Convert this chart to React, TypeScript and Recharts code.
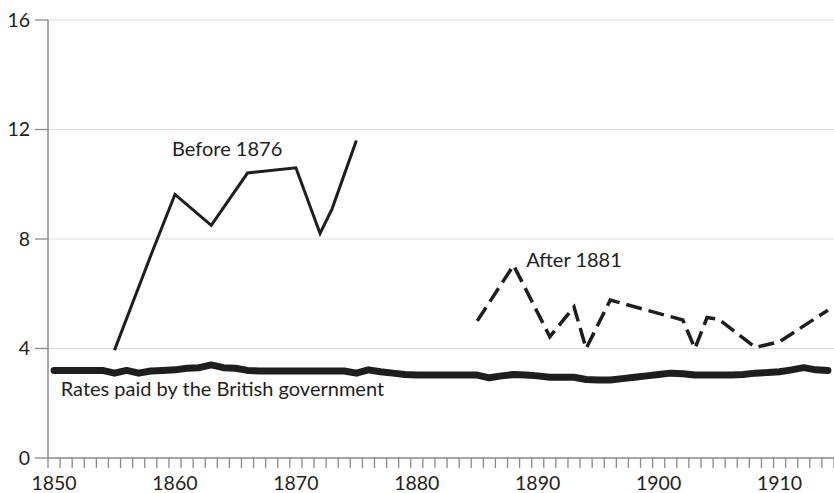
import React from "react";
import { LineChart, Line, XAxis, YAxis, CartesianGrid, ReferenceDot } from "recharts";

const britishYears = [1850,1851,1852,1853,1854,1855,1856,1857,1858,1859,1860,1861,1862,1863,1864,1865,1866,1867,1868,1869,1870,1871,1872,1873,1874,1875,1876,1877,1878,1879,1880,1881,1882,1883,1884,1885,1886,1887,1888,1889,1890,1891,1892,1893,1894,1895,1896,1897,1898,1899,1900,1901,1902,1903,1904,1905,1906,1907,1908,1909,1910,1911,1912,1913,1914];
const britishRates = [3.2,3.2,3.2,3.2,3.2,3.1,3.2,3.1,3.18,3.2,3.22,3.28,3.3,3.4,3.3,3.28,3.2,3.18,3.18,3.18,3.18,3.18,3.18,3.18,3.18,3.1,3.22,3.15,3.1,3.05,3.03,3.03,3.03,3.03,3.03,3.03,2.93,3.0,3.05,3.03,3.0,2.95,2.95,2.95,2.87,2.85,2.85,2.9,2.95,3.0,3.05,3.1,3.08,3.03,3.03,3.03,3.03,3.05,3.1,3.12,3.15,3.22,3.3,3.22,3.2];

const beforeYears = [1855,1858,1860,1863,1866,1870,1872,1873,1875];
const beforeRates = [3.94,7.4,9.63,8.5,10.41,10.6,8.2,9.11,11.6];

const afterYears = [1885,1888,1891,1893,1894,1896,1902,1903,1904,1905,1908,1910,1914];
const afterRates = [5.01,7.04,4.43,5.52,4.0,5.77,5.04,4.0,5.13,5.06,4.04,4.25,5.4];

const decadeLabels = [1850,1860,1870,1880,1890,1900,1910];
const yTicks = [0,4,8,12,16];
const xStart = 1849.5;
const xEnd = 1914.5;
const minorTicks: number[] = [];
for (let t = xStart; t <= xEnd + 0.001; t += 1) minorTicks.push(t);

const britishData = britishYears.map((year, i) => ({ year, v: britishRates[i] }));
const beforeData = beforeYears.map((year, i) => ({ year, v: beforeRates[i] }));
const afterData = afterYears.map((year, i) => ({ year, v: afterRates[i] }));

const FONT = "Lato, 'Liberation Sans', sans-serif";
const AXIS = "#8a8a8a";
const INK = "#1e1e1e";

const XTick = (props: any) => {
  const { x, y, payload } = props;
  const mid = payload.value + 0.5;
  const isLabel = decadeLabels.includes(Math.round(mid)) && Math.abs(mid - Math.round(mid)) < 0.01;
  return (
    <g>
      <line x1={x} y1={y} x2={x} y2={y + 10} stroke={AXIS} strokeWidth={1.3} />
      {isLabel && (
        <text x={x + 6} y={y + 32} textAnchor="middle" fontFamily={FONT} fontSize={19.5} fill={INK}>
          {Math.round(mid)}
        </text>
      )}
    </g>
  );
};

const textShape = (label: string) => (p: any) => (
  <text x={p.cx} y={p.cy} textAnchor="start" fontFamily={FONT} fontSize={20} fill={INK}>
    {label}
  </text>
);

export default function App() {
  return (
    <div style={{ position: "absolute", left: 0, top: 0, background: "#fff" }}>
      <LineChart width={834} height={493} margin={{ top: 20, right: 0, left: 0, bottom: 0 }}>
        <CartesianGrid vertical={false} stroke="#dcdcdc" strokeWidth={1.2} horizontalValues={[4, 8, 12, 16]} />
        <XAxis
          type="number"
          dataKey="year"
          domain={[xStart, xEnd]}
          ticks={minorTicks}
          interval={0}
          height={35}
          tickSize={0}
          tickMargin={0}
          tickLine={false}
          axisLine={{ stroke: AXIS, strokeWidth: 1.5 }}
          tick={<XTick />}
          allowDataOverflow
        />
        <YAxis
          type="number"
          domain={[0, 16]}
          ticks={yTicks}
          width={48}
          tickSize={13}
          tickMargin={5}
          axisLine={{ stroke: AXIS, strokeWidth: 1.5 }}
          tickLine={{ stroke: AXIS, strokeWidth: 1.3 }}
          tick={{ fontFamily: FONT, fontSize: 19.5, fill: INK }}
        />
        <Line data={britishData} dataKey="v" type="linear" stroke={INK} strokeWidth={7} dot={false} strokeLinecap="round" strokeLinejoin="round" isAnimationActive={false} />
        <Line data={beforeData} dataKey="v" type="linear" stroke={INK} strokeWidth={3} dot={false} strokeLinejoin="miter" isAnimationActive={false} />
        <Line data={afterData} dataKey="v" type="linear" stroke={INK} strokeWidth={3.5} strokeDasharray="16 7" dot={false} isAnimationActive={false} />
        <ReferenceDot x={1859.76} y={11.02} r={0} shape={textShape("Before 1876")} />
        <ReferenceDot x={1889.04} y={6.97} r={0} shape={textShape("After 1881")} />
        <ReferenceDot x={1850.55} y={2.26} r={0} shape={textShape("Rates paid by the British government")} />
      </LineChart>
    </div>
  );
}
